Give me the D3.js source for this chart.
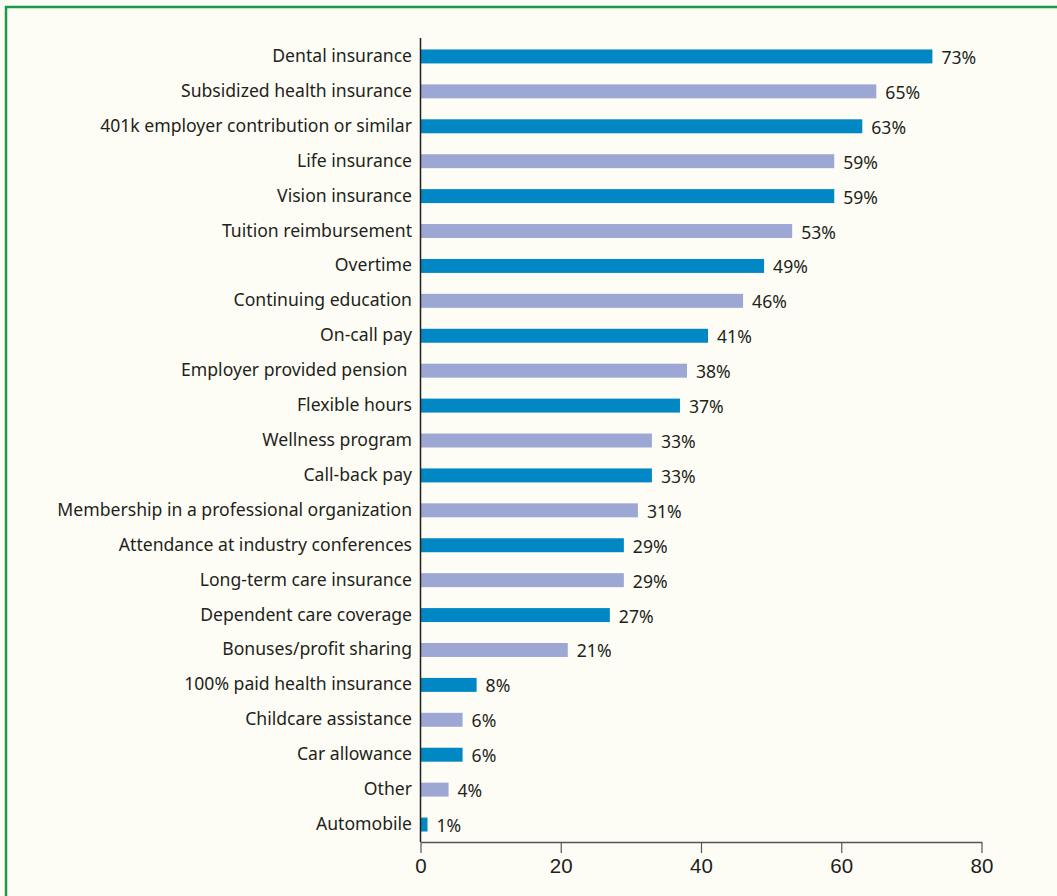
<!DOCTYPE html>
<html>
<head>
<meta charset="utf-8">
<script src="https://cdn.jsdelivr.net/npm/d3@7"></script>
<style>
  html, body { margin: 0; padding: 0; background: #fdfdf5; }
  svg { display: block; font-family: "Noto Sans", "Open Sans", sans-serif; }
  .lbl { font-size: 17.6px; fill: #231f20; }
  .val { font-size: 17.6px; fill: #231f20; }
  .tick text { font-size: 20.5px; fill: #231f20; }
</style>
</head>
<body>
<svg id="chart" width="1057" height="896"></svg>
<script>
// categories, top to bottom
const categories = [
  "Dental insurance", "Subsidized health insurance", "401k employer contribution or similar",
  "Life insurance", "Vision insurance", "Tuition reimbursement", "Overtime",
  "Continuing education", "On-call pay", "Employer provided pension\u00a0", "Flexible hours",
  "Wellness program", "Call-back pay", "Membership in a professional organization",
  "Attendance at industry conferences", "Long-term care insurance", "Dependent care coverage",
  "Bonuses/profit sharing", "100% paid health insurance", "Childcare assistance",
  "Car allowance", "Other", "Automobile"
];
const values = [73, 65, 63, 59, 59, 53, 49, 46, 41, 38, 37, 33, 33, 31, 29, 29, 27, 21, 8, 6, 6, 4, 1];
const ticks = [0, 20, 40, 60, 80];

const dark = "#0087c4", light = "#9ca7d4";

const svg = d3.select("#chart");

// green frame, open at right and bottom
svg.append("path")
  .attr("d", "M6,1000 L6,7 L1100,7")
  .attr("fill", "none")
  .attr("stroke", "#1a9a4a")
  .attr("stroke-width", 2.5);

const x = d3.scaleLinear().domain([0, 80]).range([420.5, 981.5]);
const y = d3.scaleBand().domain(categories).range([39, 842]).paddingInner(0.6).paddingOuter(0.3);

const g = svg.append("g");

// bars
g.selectAll("rect.bar")
  .data(categories)
  .join("rect")
  .attr("class", "bar")
  .attr("x", x(0))
  .attr("y", d => y(d))
  .attr("width", (d, i) => x(values[i]) - x(0))
  .attr("height", y.bandwidth())
  .attr("fill", (d, i) => i % 2 === 0 ? dark : light);

// value labels
g.selectAll("text.val")
  .data(categories)
  .join("text")
  .attr("class", "val")
  .attr("x", (d, i) => x(values[i]) + 9)
  .attr("y", d => y(d) + y.bandwidth() / 2 + 7.5)
  .text((d, i) => values[i] + "%");

// category labels
g.selectAll("text.lbl")
  .data(categories)
  .join("text")
  .attr("class", "lbl")
  .attr("x", 412)
  .attr("y", d => y(d) + y.bandwidth() / 2 + 5.5)
  .attr("text-anchor", "end")
  .style("white-space", "pre")
  .text(d => d);

// y axis line
g.append("line")
  .attr("x1", x(0)).attr("x2", x(0))
  .attr("y1", 38).attr("y2", 842)
  .attr("stroke", "#231f20").attr("stroke-width", 1.5);

// x axis
const xAxis = g.append("g")
  .attr("transform", "translate(0,842)")
  .call(d3.axisBottom(x).tickValues(ticks).tickSize(11).tickPadding(5).tickSizeOuter(0));
xAxis.select(".domain").attr("stroke", "#555").attr("stroke-width", 1.5);
xAxis.selectAll(".tick line").attr("stroke", "#555").attr("stroke-width", 1.2);
xAxis.selectAll(".tick text").attr("font-family", null).attr("font-size", null);
</script>
</body>
</html>
